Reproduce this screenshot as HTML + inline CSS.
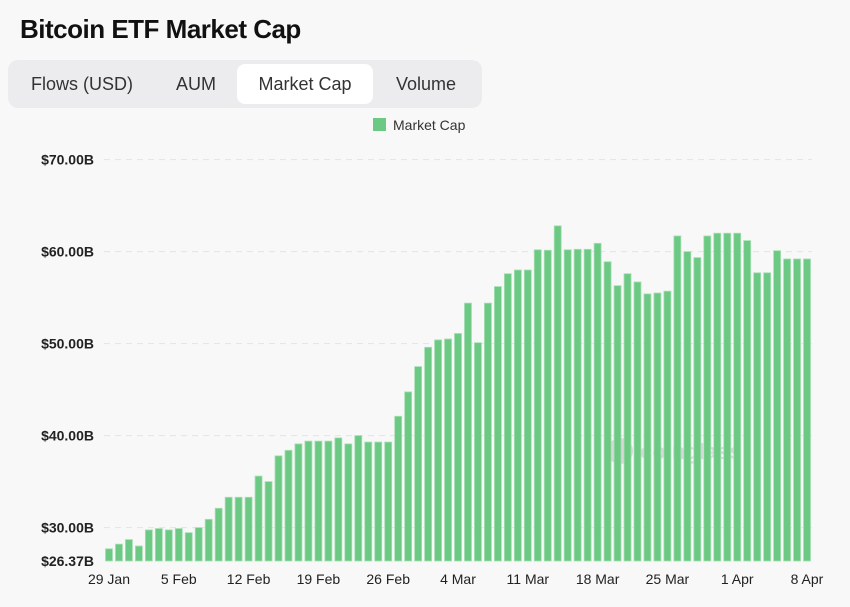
<!DOCTYPE html>
<html><head><meta charset="utf-8"><style>
body{margin:0;width:850px;height:607px;background:#f8f8f8;font-family:"Liberation Sans",sans-serif;overflow:hidden;position:relative}
.title{position:absolute;left:20px;top:14px;font-size:26px;font-weight:bold;color:#111;letter-spacing:-0.5px}
.tabs{position:absolute;left:8px;top:60px;width:474px;height:48px;background:#ececee;border-radius:10px}
.tab{position:absolute;top:4px;height:40px;line-height:40px;font-size:18px;color:#333;text-align:center}
.tab.active{background:#fff;border-radius:8px}
</style></head><body>
<div class="title">Bitcoin ETF Market Cap</div>
<div class="tabs">
<div class="tab" style="left:10px;width:128px">Flows (USD)</div>
<div class="tab" style="left:148px;width:80px">AUM</div>
<div class="tab active" style="left:229px;width:136px">Market Cap</div>
<div class="tab" style="left:370px;width:96px">Volume</div>
</div>
<svg id="chart" width="850" height="607" style="position:absolute;left:0;top:0"></svg>
<script>
const values=[27.7,28.2,28.7,28.0,29.75,29.9,29.75,29.9,29.45,30.0,30.9,32.1,33.3,33.3,33.3,35.6,35.0,37.8,38.4,39.1,39.4,39.4,39.4,39.75,39.1,40.0,39.3,39.3,39.3,42.1,44.75,47.5,49.6,50.4,50.5,51.1,54.4,50.1,54.4,56.2,57.6,58.0,58.0,60.2,60.15,62.8,60.2,60.25,60.25,60.9,58.9,56.3,57.6,56.7,55.4,55.5,55.7,61.7,60.0,59.35,61.7,62.0,62.0,62.0,61.2,57.7,57.7,60.1,59.2,59.2,59.2];
const yTicks=[26.37,30,40,50,60,70];
const yTickLabels=["$26.37B","$30.00B","$40.00B","$50.00B","$60.00B","$70.00B"];
const xLabels=["29 Jan","5 Feb","12 Feb","19 Feb","26 Feb","4 Mar","11 Mar","18 Mar","25 Mar","1 Apr","8 Apr"];
const xLabelIdx=[0,7,14,21,28,35,42,49,56,63,70];
const NS="http://www.w3.org/2000/svg";
const svg=document.getElementById('chart');
const x0=104,x1=812,yMin=26.37,yBase=561,py=9.2;
const band=(x1-x0)/values.length;
const y=v=>yBase-(v-yMin)*py;
const xc=i=>x0+band*(i+0.5);
function mk(t,a){const e=document.createElementNS(NS,t);for(const k in a)e.setAttribute(k,a[k]);svg.appendChild(e);return e;}
yTicks.forEach((t,i)=>{
 if(i>0){const l=mk('line',{x1:104,x2:812,y1:y(t),y2:y(t),stroke:'#e4e4e4','stroke-dasharray':'6,5'});
 
 }
 const tx=mk('text',{x:94,y:y(t)+5,'text-anchor':'end','font-size':14,fill:'#222','font-weight':'bold'});
 tx.textContent=yTickLabels[i];
 
 
});
const wm=mk('text',{x:640,y:459,'font-size':22,'font-weight':'bold',fill:'#d8d8d8'});wm.textContent='coinglass';


mk('circle',{cx:620,cy:451,r:13,fill:'#d8d8d8'});
values.forEach((v,i)=>{
 const r=mk('rect',{x:xc(i)-3.5,y:y(v),width:7,height:yBase-y(v),fill:'#6cc983',stroke:'#a6e0b4','stroke-width':0.8});
 
 
});
xLabels.forEach((s,k)=>{
 const t=mk('text',{x:xc(xLabelIdx[k]),y:584,'text-anchor':'middle','font-size':14,fill:'#222'});
 t.textContent=s;
 
 
});
const ls=mk('rect',{x:373,y:118,width:13,height:13,fill:'#6cc983'});


const lt=mk('text',{x:393,y:130,'font-size':14,fill:'#333'});lt.textContent='Market Cap';


</script>
</body></html>
